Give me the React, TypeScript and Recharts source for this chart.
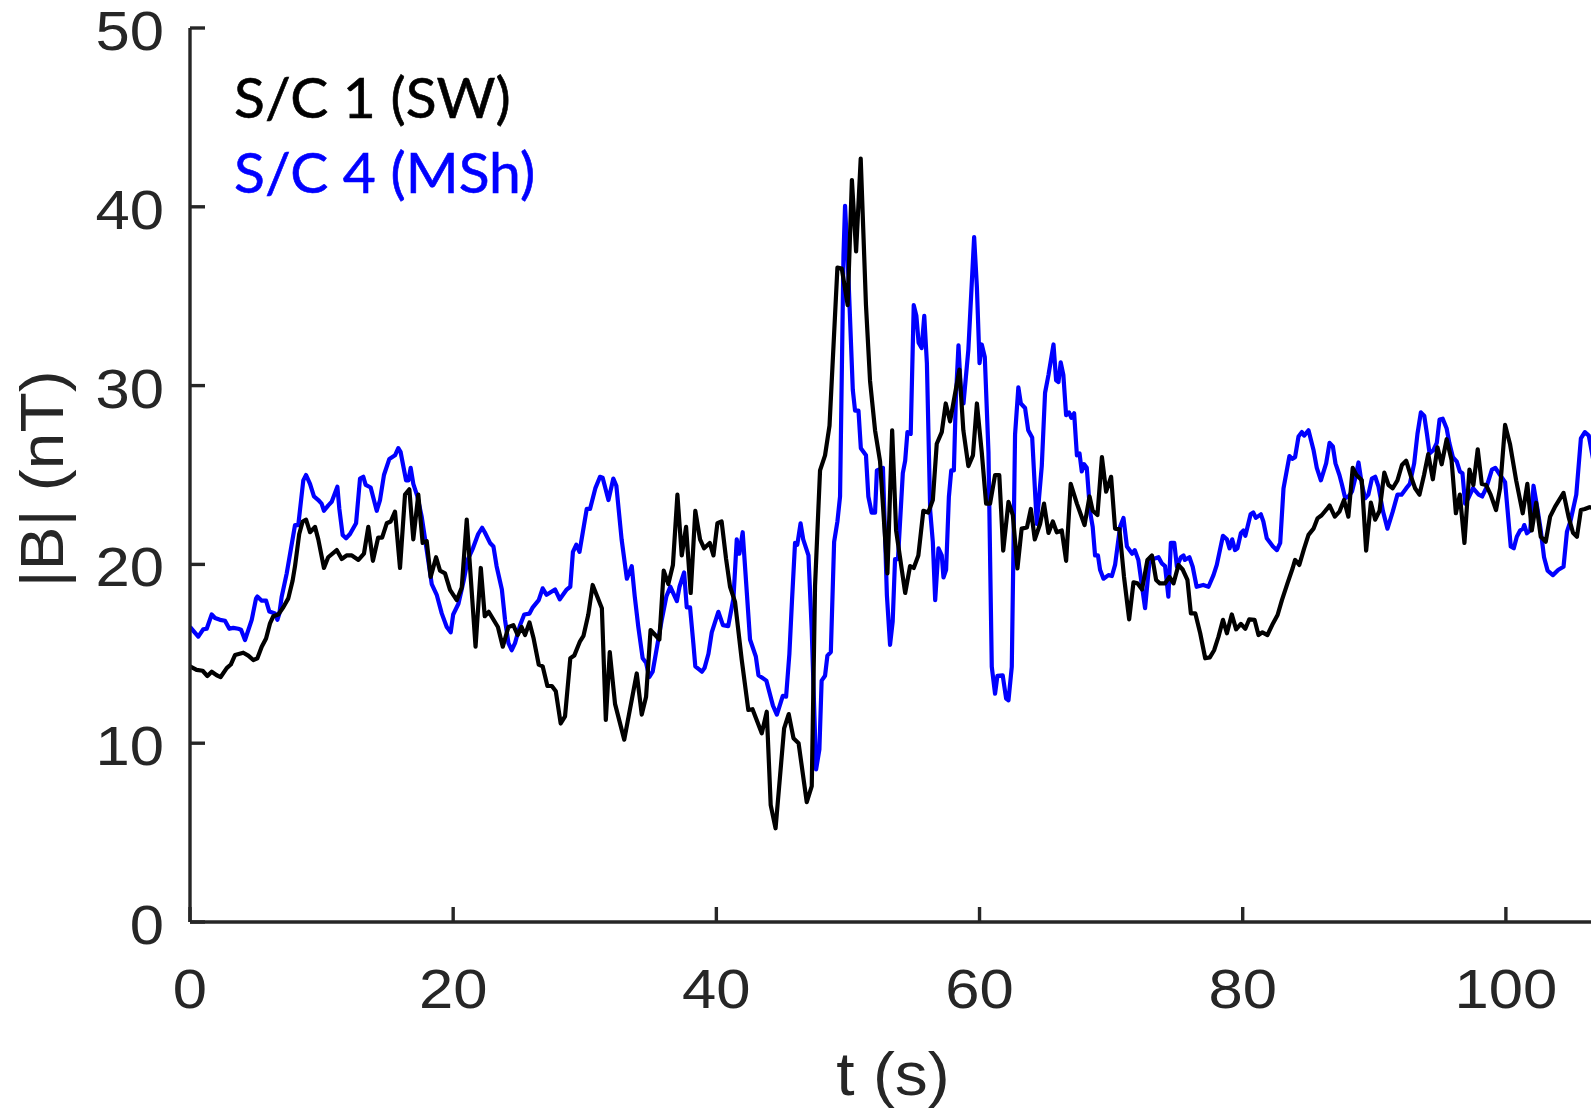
import React from 'react';
import { LineChart, Line, XAxis, YAxis, Legend } from 'recharts';

// ---- data ----
const xTicks = [0, 20, 40, 60, 80, 100];
const yTicks = [0, 10, 20, 30, 40, 50];
const xDomain = [0, 107];
const yDomain = [0, 50];

const seriesNames = ['S/C 1 (SW)', 'S/C 4 (MSh)'];
const seriesColors = ['#000000', '#0000ff'];

// S/C 1 (solar wind) |B| in nT
const sc1Time = [
  0, 0.5, 0.96, 1.32, 1.65, 2.03, 2.33, 2.79, 3.1, 3.42,
  4.05, 4.43, 4.81, 5.12, 5.45, 5.78, 6.08, 6.33, 6.71, 7.09,
  7.47, 7.8, 7.98, 8.3, 8.56, 8.82, 9.12, 9.5, 9.75, 10.18,
  10.5, 11.15, 11.53, 11.9, 12.3, 12.8, 13.22, 13.55, 13.9, 14.3,
  14.6, 14.95, 15.25, 15.58, 15.96, 16.34, 16.67, 16.97, 17.35, 17.68,
  17.99, 18.29, 18.7, 19.0, 19.38, 19.76, 20.27, 20.65, 21.03, 21.7,
  22.1, 22.4, 22.7, 23.4, 23.77, 24.2, 24.57, 24.9, 25.2, 25.46,
  25.8, 26.1, 26.5, 26.8, 27.16, 27.5, 27.8, 28.17, 28.5, 28.9,
  29.2, 29.64, 29.9, 30.27, 30.6, 31.3, 31.6, 31.9, 32.3, 33.0,
  33.95, 34.33, 34.66, 35.0, 35.67, 36.0, 36.35, 36.7, 37.04, 37.37,
  37.7, 38.05, 38.4, 38.76, 39.07, 39.5, 39.78, 40.08, 40.4, 40.74,
  41.04, 41.42, 41.93, 42.43, 42.75, 43.45, 43.83, 44.13, 44.5, 45.15,
  45.5, 45.86, 46.25, 46.87, 47.25, 47.5, 47.88, 48.26, 48.6, 49.2,
  49.53, 49.98, 50.3, 50.62, 50.97, 51.37, 51.68, 52.06, 52.44, 53.0,
  53.36, 53.66, 54.35, 54.72, 55.0, 55.35, 55.73, 56.1, 56.45, 56.75,
  57.13, 57.43, 57.76, 58.47, 58.77, 59.15, 59.5, 59.8, 60.17, 60.5,
  60.8, 61.18, 61.5, 61.8, 62.2, 62.53, 62.88, 63.2, 63.6, 63.9,
  64.2, 64.6, 64.9, 65.24, 65.57, 65.87, 66.25, 66.58, 66.93, 67.4,
  67.98, 68.36, 68.6, 68.96, 69.3, 69.62, 70.0, 70.3, 70.63, 70.98,
  71.37, 71.7, 72.0, 72.35, 72.76, 73.1, 73.42, 73.7, 74.1, 74.43,
  74.74, 75.12, 75.45, 75.8, 76.06, 76.4, 76.77, 77.15, 77.5, 77.83,
  78.16, 78.5, 78.8, 79.17, 79.5, 79.86, 80.2, 80.5, 80.9, 81.2,
  81.5, 81.88, 82.3, 82.65, 82.98, 83.4, 83.8, 83.98, 84.3, 84.67,
  85.0, 85.38, 85.68, 86.0, 86.4, 86.6, 87.0, 87.35, 87.7, 88.03,
  88.36, 88.64, 89.05, 89.38, 89.74, 90.07, 90.4, 90.76, 91.08, 91.4,
  91.76, 92.1, 92.42, 92.78, 93.1, 93.43, 93.78, 94.1, 94.45, 94.8,
  95.12, 95.5, 95.87, 96.2, 96.5, 96.85, 97.23, 97.53, 97.86, 98.17,
  98.5, 98.84, 99.25, 99.56, 99.94, 100.32, 100.78, 101.28, 101.63, 101.97,
  102.3, 102.65, 103.03, 103.36, 103.74, 104.38, 104.76, 105.1, 105.4, 105.7,
  106.0, 106.35, 107.0,
];
const sc1B = [
  14.3, 14.1, 14.05, 13.76, 14.0, 13.8, 13.7, 14.2, 14.4, 14.93,
  15.06, 14.9, 14.65, 14.75, 15.4, 15.86, 16.7, 17.1, 17.2, 17.6,
  18.1, 19.1, 19.9, 21.7, 22.4, 22.5, 21.8, 22.1, 21.4, 19.8,
  20.4, 20.8, 20.3, 20.5, 20.5, 20.25, 20.6, 22.1, 20.2, 21.5,
  21.5, 22.3, 22.4, 22.95, 19.8, 23.9, 24.2, 21.4, 23.9, 21.2,
  21.3, 19.3, 20.4, 19.65, 19.5, 18.57, 18.0, 18.7, 22.5, 15.4,
  19.8, 17.1, 17.35, 16.5, 15.4, 16.5, 16.6, 16.05, 16.5, 16.05,
  16.75, 15.9, 14.4, 14.3, 13.2, 13.2, 12.9, 11.1, 11.5, 14.75,
  14.9, 15.7, 16.0, 17.2, 18.85, 17.55, 11.3, 15.1, 12.2, 10.2,
  13.9, 11.6, 12.6, 16.33, 15.8, 19.65, 18.9, 19.97, 23.9, 20.5,
  22.1, 18.4, 23.0, 21.4, 20.9, 21.2, 20.5, 22.3, 22.4, 20.3,
  18.75, 17.9, 14.65, 11.86, 11.9, 10.55, 11.76, 6.54, 5.24, 10.83,
  11.63, 10.28, 10.0, 6.7, 7.6, 18.8, 25.26, 26.1, 27.76, 36.6,
  36.55, 34.5, 41.5, 37.5, 42.7, 34.5, 30.26, 27.5, 25.76, 19.5,
  27.5, 21.9, 18.4, 19.9, 19.8, 20.5, 23.0, 22.9, 23.6, 26.75,
  27.4, 29.0, 28.0, 30.9, 27.5, 25.5, 26.1, 29.0, 26.26, 23.4,
  23.4, 25.0, 25.0, 20.77, 23.5, 22.76, 19.77, 22.0, 22.06, 23.1,
  21.4, 22.26, 23.4, 21.76, 22.4, 21.8, 21.9, 20.2, 24.5, 23.4,
  22.2, 23.8, 23.0, 22.76, 26.0, 24.07, 24.9, 22.0, 21.96, 19.3,
  16.93, 19.0, 18.94, 18.6, 20.25, 20.5, 19.13, 18.94, 18.94, 19.3,
  18.94, 19.97, 19.7, 19.13, 17.26, 17.26, 16.15, 14.75, 14.8, 15.2,
  15.96, 16.9, 16.15, 17.2, 16.37, 16.67, 16.4, 16.93, 16.9, 16.05,
  16.2, 16.05, 16.7, 17.17, 18.0, 18.94, 19.8, 20.25, 19.97, 20.9,
  21.65, 22.0, 22.57, 22.75, 23.1, 23.3, 22.67, 22.95, 23.6, 22.67,
  25.4, 25.0, 24.7, 20.77, 23.45, 22.5, 23.0, 25.13, 24.44, 24.26,
  24.7, 25.56, 25.8, 24.94, 24.26, 23.9, 25.0, 26.17, 24.76, 26.55,
  25.6, 27.0, 25.84, 22.86, 23.9, 21.2, 25.3, 24.44, 26.44, 24.5,
  24.44, 23.9, 23.04, 24.26, 27.8, 26.7, 24.7, 22.86, 24.5, 21.9,
  23.45, 21.55, 21.27, 22.67, 23.23, 24.0, 22.67, 21.77, 21.55, 23.04,
  23.1, 23.2, 23.1,
];

// S/C 4 (magnetosheath) |B| in nT
const sc4Time = [
  0, 0.63, 1.0, 1.27, 1.65, 1.9, 2.28, 2.66, 2.99, 3.29,
  3.67, 3.88, 4.18, 4.69, 5.02, 5.12, 5.45, 5.78, 6.03, 6.46,
  6.64, 6.79, 6.97, 7.35, 7.98, 8.23, 8.61, 8.82, 9.12, 9.42,
  9.75, 10.0, 10.18, 10.51, 10.77, 11.2, 11.35, 11.6, 11.86, 12.16,
  12.62, 12.92, 13.17, 13.35, 13.73, 14.19, 14.44, 14.74, 15.15, 15.58,
  15.83, 16.0, 16.42, 16.6, 16.77, 16.97, 17.28, 17.6, 17.99, 18.37,
  18.75, 19.13, 19.51, 19.81, 20.0, 20.4, 20.8, 21.1, 21.5, 21.9,
  22.2, 22.4, 22.8, 23.06, 23.3, 23.7, 23.94, 24.2, 24.45, 24.7,
  25.08, 25.4, 25.8, 26.05, 26.5, 26.8, 27.1, 27.74, 28.1, 28.6,
  28.9, 29.1, 29.36, 29.6, 30.15, 30.4, 30.8, 31.16, 31.36, 31.8,
  32.17, 32.4, 32.8, 33.2, 33.57, 33.8, 34.07, 34.4, 34.66, 34.9,
  35.16, 35.47, 35.85, 36.2, 36.5, 37.0, 37.2, 37.55, 37.75, 38.0,
  38.25, 38.4, 38.9, 39.1, 39.4, 39.65, 40.15, 40.5, 40.9, 41.3,
  41.55, 41.75, 42.0, 42.56, 43.0, 43.2, 43.8, 44.3, 44.6, 45.05,
  45.3, 45.55, 45.75, 45.98, 46.15, 46.4, 46.6, 47.0, 47.25, 47.58,
  47.83, 48.0, 48.26, 48.44, 48.7, 48.95, 49.2, 49.4, 49.66, 49.78,
  50.03, 50.37, 50.54, 50.8, 50.98, 51.37, 51.55, 51.8, 52.06, 52.2,
  52.66, 52.96, 53.2, 53.4, 53.58, 53.8, 54.17, 54.35, 54.52, 54.77,
  55.0, 55.2, 55.37, 55.6, 55.8, 56.0, 56.25, 56.45, 56.63, 56.88,
  57.13, 57.26, 57.46, 57.67, 57.85, 58.05, 58.2, 58.4, 58.58, 58.78,
  59.15, 59.59, 59.8, 60.0, 60.17, 60.4, 60.68, 60.93, 61.18, 61.36,
  61.76, 62.02, 62.2, 62.45, 62.7, 62.95, 63.14, 63.46, 63.7, 64.0,
  64.35, 64.73, 64.98, 65.24, 65.62, 65.82, 66.0, 66.17, 66.37, 66.58,
  66.8, 66.97, 67.19, 67.4, 67.6, 67.77, 67.95, 68.15, 68.4, 68.6,
  68.78, 69.0, 69.16, 69.42, 69.8, 70.06, 70.3, 70.68, 70.94, 71.2,
  71.6, 71.8, 72.07, 72.58, 72.9, 73.2, 73.6, 73.85, 74.1, 74.35,
  74.54, 74.8, 75.0, 75.3, 75.5, 75.6, 75.95, 76.2, 76.5, 77.0,
  77.4, 77.78, 78.03, 78.5, 78.8, 79.0, 79.2, 79.42, 79.6, 79.86,
  80.06, 80.2, 80.6, 80.8, 81.0, 81.38, 81.57, 81.83, 82.3, 82.6,
  82.85, 83.1, 83.55, 83.76, 83.98, 84.24, 84.5, 84.67, 85.0, 85.38,
  85.63, 85.94, 86.34, 86.6, 86.85, 87.05, 87.35, 87.53, 87.79, 88.04,
  88.3, 88.55, 88.8, 89.05, 89.3, 89.55, 89.82, 90.07, 90.32, 90.65,
  91.0, 91.4, 91.76, 92.07, 92.42, 92.7, 93.03, 93.28, 93.54, 93.8,
  94.0, 94.2, 94.5, 94.75, 94.96, 95.2, 95.5, 95.7, 95.97, 96.27,
  96.5, 96.7, 96.9, 97.15, 97.5, 97.93, 98.2, 98.5, 98.94, 99.2,
  99.56, 99.94, 100.12, 100.37, 100.6, 100.83, 101.08, 101.3, 101.4, 101.6,
  101.85, 102.1, 102.4, 102.65, 102.9, 103.17, 103.57, 103.99, 104.38, 104.64,
  104.9, 105.35, 105.7, 106.0, 106.3, 106.6, 107.0,
];
const sc4B = [
  16.5, 15.96, 16.37, 16.4, 17.2, 17.0, 16.9, 16.85, 16.4, 16.45,
  16.4, 16.35, 15.77, 16.9, 18.1, 18.2, 17.97, 17.97, 17.36, 17.25,
  16.9, 17.25, 18.2, 19.5, 22.2, 22.2, 24.7, 25.0, 24.5, 23.8,
  23.6, 23.4, 23.0, 23.3, 23.5, 24.35, 23.1, 21.65, 21.46, 21.7,
  22.3, 24.8, 24.9, 24.45, 24.3, 23.0, 23.6, 25.0, 25.9, 26.1,
  26.5, 26.3, 24.7, 24.7, 25.4, 24.5, 23.8, 22.7, 20.8, 18.9,
  18.3, 17.26, 16.5, 16.2, 17.2, 17.8, 19.1, 20.25, 20.9, 21.7,
  22.05, 21.8, 21.2, 21.0, 19.9, 18.6, 16.9, 15.6, 15.2, 15.6,
  16.6, 17.2, 17.25, 17.6, 18.0, 18.66, 18.3, 18.6, 18.05, 18.57,
  18.75, 20.7, 21.1, 20.7, 23.1, 23.1, 24.25, 24.9, 24.85, 23.6,
  24.8, 24.4, 21.4, 19.2, 19.9, 18.2, 16.5, 14.75, 14.5, 13.7,
  14.0, 15.3, 16.9, 18.2, 18.75, 17.95, 18.75, 19.55, 17.6, 17.6,
  15.6, 14.3, 14.0, 14.2, 15.0, 16.2, 17.35, 16.6, 16.55, 18.1,
  21.4, 20.6, 21.8, 15.8, 14.85, 13.8, 13.5, 12.1, 11.6, 12.65,
  12.6, 15.0, 18.0, 21.2, 21.1, 22.3, 21.4, 20.5, 16.3, 8.53,
  9.65, 13.5, 13.77, 14.9, 15.1, 21.26, 22.4, 23.8, 37.25, 40.05,
  36.2, 29.75, 28.6, 28.6, 26.5, 26.1, 23.8, 22.9, 22.9, 25.26,
  25.4, 18.27, 15.5, 16.8, 20.3, 20.3, 25.1, 25.8, 27.4, 27.3,
  34.5, 33.9, 32.4, 32.1, 33.9, 31.25, 23.0, 21.26, 18.0, 20.9,
  20.5, 19.27, 19.7, 23.77, 25.26, 25.26, 29.25, 32.25, 29.75, 29.0,
  32.0, 38.3, 35.5, 31.25, 32.3, 31.6, 26.26, 14.27, 12.77, 13.77,
  13.8, 12.5, 12.4, 14.27, 27.26, 29.9, 29.0, 28.75, 27.5, 27.1,
  22.26, 25.5, 29.6, 30.6, 32.3, 30.3, 30.2, 31.3, 30.6, 28.35,
  28.5, 28.2, 28.45, 26.1, 26.2, 25.2, 25.6, 25.4, 22.95, 22.1,
  20.5, 20.5, 19.7, 19.2, 19.4, 19.35, 19.97, 22.1, 22.6, 21.0,
  20.6, 20.8, 20.25, 17.55, 20.06, 20.3, 20.4, 20.06, 19.9, 18.2,
  21.2, 21.2, 19.87, 20.4, 20.5, 20.25, 20.4, 19.87, 18.75, 18.85,
  18.75, 19.4, 19.97, 21.6, 21.4, 20.9, 21.4, 20.8, 20.9, 21.74,
  21.9, 21.6, 22.8, 22.9, 22.6, 22.8, 22.4, 21.46, 21.0, 20.8,
  21.2, 24.25, 26.06, 25.9, 26.0, 27.15, 27.4, 27.2, 27.5, 26.4,
  25.4, 24.7, 25.65, 26.8, 26.6, 25.65, 25.0, 24.5, 23.7, 23.8,
  24.07, 24.8, 25.7, 24.5, 23.7, 23.9, 24.8, 24.9, 24.35, 23.0,
  22.0, 22.95, 23.9, 23.9, 24.25, 24.5, 25.65, 27.3, 28.5, 28.3,
  27.3, 26.2, 26.4, 26.8, 28.1, 28.15, 27.6, 26.8, 26.0, 25.75,
  25.2, 25.1, 23.4, 23.7, 24.26, 23.9, 23.8, 24.26, 25.3, 25.4,
  25.0, 24.6, 23.1, 21.0, 20.9, 21.55, 21.9, 22.0, 22.2, 21.74,
  21.9, 24.4, 23.1, 21.9, 20.4, 19.65, 19.4, 19.7, 19.87, 21.83,
  22.4, 23.9, 27.05, 27.4, 27.2, 26.0, 24.5,
];

const xLabel = 't (s)';
const yLabel = '|B| (nT)';

const build = (ts: number[], bs: number[]) => {
  const n = Math.min(ts.length, bs.length);
  const out: { t: number; b: number }[] = [];
  for (let i = 0; i < n; i++) out.push({ t: ts[i], b: bs[i] });
  return out;
};
const sc1Data = build(sc1Time, sc1B);
const sc4Data = build(sc4Time, sc4B);

// ---- styling ----
const AXIS = '#262626';
const TICK_LEN = 15;
const AXW = 3.4;
const LINE_W = 4.2;
const NUM_FONT = "'Liberation Sans', Arial, Helvetica, sans-serif";

const BottomTick = (p: any) => (
  <g>
    <line x1={p.x} y1={p.y} x2={p.x} y2={p.y - TICK_LEN} stroke={AXIS} strokeWidth={AXW} />
    <text
      transform={`translate(${p.x},${p.y + 86}) scale(1.12,1)`}
      textAnchor="middle"
      fontSize={55}
      fontFamily={NUM_FONT}
      fill={AXIS}
    >
      {p.payload.value}
    </text>
  </g>
);
const TopTick = (p: any) => (
  <line x1={p.x} y1={p.y} x2={p.x} y2={p.y + TICK_LEN} stroke={AXIS} strokeWidth={AXW} />
);
const LeftTick = (p: any) => (
  <g>
    <line x1={p.x} y1={p.y} x2={p.x + TICK_LEN} y2={p.y} stroke={AXIS} strokeWidth={AXW} />
    <text
      transform={`translate(${p.x - 26},${p.y + 22}) scale(1.12,1)`}
      textAnchor="end"
      fontSize={55}
      fontFamily={NUM_FONT}
      fill={AXIS}
    >
      {p.payload.value}
    </text>
  </g>
);
const RightTick = (p: any) => (
  <line x1={p.x} y1={p.y} x2={p.x - TICK_LEN} y2={p.y} stroke={AXIS} strokeWidth={AXW} />
);

const XTitle = () => (
  <text
    transform="translate(893,1095) scale(1.08,1)"
    textAnchor="middle"
    fontSize={61}
    fontFamily={NUM_FONT}
    fill={AXIS}
  >
    {xLabel}
  </text>
);
const YTitle = () => (
  <text
    transform="translate(63,479) rotate(-90) scale(1.08,1)"
    textAnchor="middle"
    fontSize={61}
    fontFamily={NUM_FONT}
    fill={AXIS}
  >
    {yLabel}
  </text>
);

const LegendContent = () => (
  <div
    style={{
      fontFamily: "Lato, 'Open Sans', sans-serif",
      fontSize: 57,
      lineHeight: '75px',
      whiteSpace: 'nowrap',
      WebkitTextStroke: '0.6px currentColor',
    }}
  >
    {seriesNames.map((n, i) => (
      <div key={n} style={{ color: seriesColors[i] }}>{n}</div>
    ))}
  </div>
);

const css = `.recharts-line-curve { stroke-width: ${LINE_W}px; stroke-linejoin: round; }`;

export default function App() {
  return (
    <div
      style={{
        position: 'absolute',
        left: 0,
        top: 0,
        width: 1591,
        height: 1108,
        overflow: 'hidden',
        background: '#ffffff',
      }}
    >
      <style>{css}</style>
      <LineChart width={1625} height={1108} margin={{ top: 28, right: 27, bottom: 0, left: 0 }}>
        <XAxis
          xAxisId="b"
          dataKey="t"
          type="number"
          domain={xDomain}
          ticks={xTicks}
          interval={0}
          height={186}
          tickSize={0}
          tickMargin={0}
          tickLine={false}
          axisLine={{ stroke: AXIS, strokeWidth: AXW }}
          tick={BottomTick}
          label={XTitle}
          allowDataOverflow
        />
        <XAxis
          xAxisId="top"
          dataKey="t"
          type="number"
          orientation="top"
          domain={xDomain}
          ticks={xTicks}
          interval={0}
          height={0}
          tickSize={0}
          tickMargin={0}
          tickLine={false}
          axisLine={{ stroke: AXIS, strokeWidth: AXW }}
          tick={TopTick}
          allowDataOverflow
        />
        <YAxis
          yAxisId="l"
          type="number"
          domain={yDomain}
          ticks={yTicks}
          interval={0}
          width={190}
          tickSize={0}
          tickMargin={0}
          tickLine={false}
          axisLine={{ stroke: AXIS, strokeWidth: AXW }}
          tick={LeftTick}
          label={YTitle}
          allowDataOverflow
        />
        <YAxis
          yAxisId="r"
          orientation="right"
          type="number"
          domain={yDomain}
          ticks={yTicks}
          interval={0}
          width={0}
          tickSize={0}
          tickMargin={0}
          tickLine={false}
          axisLine={{ stroke: AXIS, strokeWidth: AXW }}
          tick={RightTick}
          allowDataOverflow
        />
        <Legend
          layout="vertical"
          align="center"
          verticalAlign="middle"
          content={LegendContent}
          wrapperStyle={{ left: 234, top: 59, width: 'auto' }}
        />
        <Line
          xAxisId="b"
          yAxisId="l"
          data={sc4Data}
          dataKey="b"
          name={seriesNames[1]}
          type="linear"
          stroke={seriesColors[1]}
          strokeWidth={LINE_W}
          dot={false}
          activeDot={false}
          isAnimationActive={false}
        />
        <Line
          xAxisId="b"
          yAxisId="l"
          data={sc1Data}
          dataKey="b"
          name={seriesNames[0]}
          type="linear"
          stroke={seriesColors[0]}
          strokeWidth={LINE_W}
          dot={false}
          activeDot={false}
          isAnimationActive={false}
        />
      </LineChart>
    </div>
  );
}
